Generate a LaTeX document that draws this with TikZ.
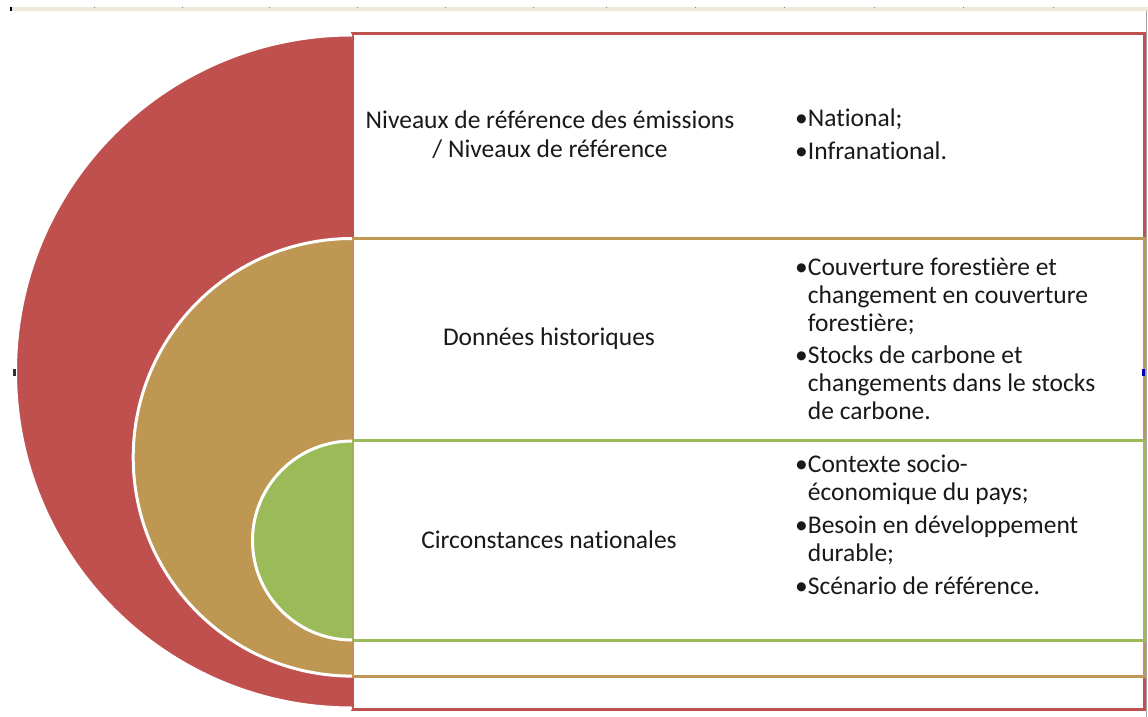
\documentclass[tikz,border=0pt]{standalone}
\usepackage{fontspec}
\setmainfont[Ligatures=NoCommon]{Carlito}
\definecolor{redc}{RGB}{192,80,77}
\definecolor{tanc}{RGB}{190,152,82}
\definecolor{greenc}{RGB}{155,187,89}
\definecolor{barc}{RGB}{238,234,219}
\definecolor{txtc}{RGB}{25,25,25}
\begin{document}
\begin{tikzpicture}[x=1pt,y=-1pt,
  band/.style={draw=#1, line width=3pt, fill=white},
  disc/.style={fill=#1},
  rim/.style={draw=white, line width=3pt},
  lbl/.style={font=\fontsize{25.5}{29}\selectfont, text=txtc, inner sep=0pt, anchor=base},
  lst/.style={font=\fontsize{25.5}{28}\selectfont, text=txtc, inner sep=0pt, anchor=base west}]
\useasboundingbox (0,0) rectangle (1148,717);
\fill[white] (0,0) rectangle (1148,717);
% top ruler bar
\fill[barc] (10,7) rectangle (1148,11.5);
\fill[black] (10,7.5) rectangle (12,11.5);
\foreach \x in {94,182,269,357,445,533,606,695,784,874,963,1053} \fill[gray] (\x,7) rectangle ++(1,1.2);
\draw[gray!70, line width=0.8pt] (1146.5,11) -- (1146.5,717);
% rectangles
\draw[band=redc] (352,34) rectangle (1144,709);
\draw[band=tanc] (352,238) rectangle (1144,676);
\draw[band=greenc] (352,440) rectangle (1144,640);
% half discs
\fill[disc=redc] (352,35) arc[start angle=270, end angle=90, radius=336.5] -- cycle;
\draw[rim] (352,35) arc[start angle=270, end angle=90, radius=336.5];
\fill[disc=tanc] (352,238.5) arc[start angle=270, end angle=90, radius=218.8] -- cycle;
\draw[rim] (352,238.5) arc[start angle=270, end angle=90, radius=218.8];
\fill[disc=greenc] (352,441) arc[start angle=270, end angle=90, radius=99.5] -- cycle;
\draw[rim] (352,441) arc[start angle=270, end angle=90, radius=99.5];
% handles
\fill[black!80] (12.5,369) rectangle (15.5,376);
\fill[blue!70!black] (1141.5,369) rectangle (1145,376);
% labels
\node[lbl] (t1) at (550,128) {\begin{tabular}[t]{@{}c@{}}Niveaux de référence des émissions\\/ Niveaux de référence\end{tabular}};
\node[lbl] (t2) at (549,345) {Données historiques};
\node[lbl] (t3) at (549,548) {Circonstances nationales};
% lists
\node[lst] (l1) at (795,126) {\begin{tabular}[t]{@{}l@{}l@{}}•&National;\\[5pt]•&Infranational.\end{tabular}};
\node[lst] (l2) at (795,275) {\begin{tabular}[t]{@{}l@{}l@{}}•&Couverture forestière et\\&changement en couverture\\&forestière;\\[4pt]•&Stocks de carbone et\\&changements dans le stocks\\&de carbone.\end{tabular}};
\node[lst] (l3) at (795,472) {\begin{tabular}[t]{@{}l@{}l@{}}•&Contexte socio-\\&économique du pays;\\[5pt]•&Besoin en développement\\&durable;\\[5pt]•&Scénario de référence.\end{tabular}};
\end{tikzpicture}
\end{document}
